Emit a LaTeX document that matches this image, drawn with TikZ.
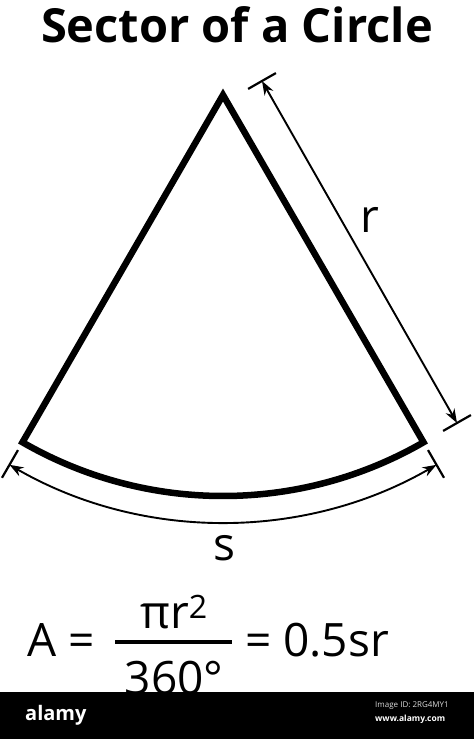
\documentclass[tikz,border=0pt]{standalone}
\usepackage{fontspec}
\setmainfont{Open Sans}
\usetikzlibrary{arrows.meta,calc}
\begin{document}
\begin{tikzpicture}[x=1pt,y=-1pt,
  sector/.style={line width=6.5pt,line join=miter},
  dim/.style={line width=1.9pt,{Stealth[length=14pt,width=10pt]}-{Stealth[length=14pt,width=10pt]}},
  tickmark/.style={line width=2.2pt},
  lbl/.style={font=\fontsize{46}{50}\selectfont}]
\useasboundingbox (0,0) rectangle (474,739);
\node[font=\bfseries\fontsize{47}{50}\selectfont] (title) at (237,25) {Sector of a Circle};

% the sector
\def\rad{401}
\coordinate (O) at (223,95);
\coordinate (R) at ($(O)+(60:\rad)$);
\coordinate (L) at ($(O)+(120:\rad)$);
\draw[sector] (L) -- (O) -- (R) arc[start angle=60,end angle=120,radius=\rad] -- cycle;

% radius r
\coordinate (r1) at (262,81);
\coordinate (r2) at (457,423);
\draw[dim] (r1) -- (r2);
\draw[tickmark] ($(r1)!16pt!90:(r2)$) -- ($(r1)!16pt!-90:(r2)$);
\draw[tickmark] ($(r2)!16pt!90:(r1)$) -- ($(r2)!16pt!-90:(r1)$);
\node[lbl] (r) at (370,220) {r};

% arc s
\coordinate (s1) at ($(O)+(60:427)$);
\coordinate (s2) at ($(O)+(120:427)$);
\draw[dim] (s1) arc[start angle=60,end angle=120,radius=427];
\draw[tickmark] ($(O)+(60:410)$) -- ($(O)+(60:442)$);
\draw[tickmark] ($(O)+(120:410)$) -- ($(O)+(120:442)$);
\node[lbl] (s) at (224,548) {s};

% area
\node[lbl,anchor=base west,inner sep=0pt] (A) at (27,656) {A =};
\node[lbl,inner sep=0pt,anchor=base] (num) at (174,628) {πr\textsuperscript{2}};
\coordinate (b1) at (115,642);
\coordinate (b2) at (232,642);
\draw[line width=3.6pt] (b1) -- (b2);
\node[lbl,inner sep=0pt,anchor=base] (den) at (174,694) {360°};
\node[lbl,anchor=base west,inner sep=0pt] (rhs) at (245,656) {= 0.5sr};

% stock bar
\fill (0,692) rectangle (474,739);
\node[white,font=\bfseries\fontsize{20}{22}\selectfont,anchor=base west,inner sep=0pt] (logo) at (25,720) {alamy};
\node[white!85!black,font=\fontsize{8}{9}\selectfont,anchor=base west,inner sep=0pt] (imgid) at (375,707) {Image ID: 2RG4MY1};
\node[white,font=\bfseries\fontsize{8.5}{9}\selectfont,anchor=base west,inner sep=0pt] (web) at (375,721) {www.alamy.com};
\end{tikzpicture}
\end{document}
